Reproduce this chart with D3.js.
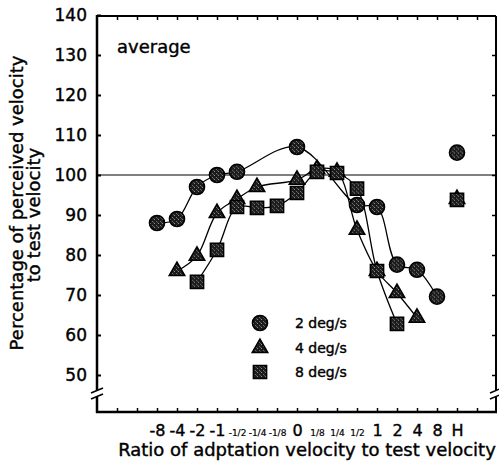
<!DOCTYPE html>
<html>
<head>
<meta charset="utf-8">
<script src="https://cdn.jsdelivr.net/npm/d3@7"></script>
<style>
  body { margin: 0; background: #fff; }
  svg text { font-family: "DejaVu Sans", Arial, sans-serif; fill: #000; stroke: #000; stroke-width: 0.4px; }
</style>
</head>
<body>
<svg width="499" height="472"></svg>
<script>
// Ratio categories along the x axis (two empty tick slots before, one after)
const categories = ["-8", "-4", "-2", "-1", "-1/2", "-1/4", "-1/8", "0",
                    "1/8", "1/4", "1/2", "1", "2", "4", "8", "H"];

// Percentage of perceived velocity, one value per category (null = no point)
const speed2 = [88, 89, 97, 100, 100.8, null, null, 107, null, null, 92.5, 92, 77.6, 76.3, 69.6, 105.6];
const speed4 = [null, 76, 79.8, 90.5, 94, 97, null, 98.8, 101.5, 100.8, 86.3, 76, 70.5, 64.3, null, 94];
const speed8 = [null, null, 73.3, 81.3, 92, 91.8, 92.3, 95.5, 100.8, 100.5, 96.6, 76, 62.8, null, null, 93.8];

const seriesNames = ["2 deg/s", "4 deg/s", "8 deg/s"];
const yTicks = [50, 60, 70, 80, 90, 100, 110, 120, 130, 140];

const svg = d3.select("svg");
const plotLeft = 97, plotRight = 496, plotTop = 16, plotBottom = 412;

const x = d3.scaleLinear().domain([-2, 16]).range([117, 477]);
const y = d3.scaleLinear().domain([50, 140]).range([375, 15]);

// speckled marker fill
const defs = svg.append("defs");
const pat = defs.append("pattern").attr("id", "speckle")
    .attr("width", 4).attr("height", 4).attr("patternUnits", "userSpaceOnUse");
pat.append("rect").attr("width", 4).attr("height", 4).attr("fill", "#1c1c1c");
pat.append("rect").attr("x", 1).attr("y", 0).attr("width", 1).attr("height", 1).attr("fill", "#8a8a8a");
pat.append("rect").attr("x", 3).attr("y", 2).attr("width", 1).attr("height", 1).attr("fill", "#6f6f6f");
pat.append("rect").attr("x", 0).attr("y", 3).attr("width", 1).attr("height", 1).attr("fill", "#555");

// frame
svg.append("line").attr("x1", plotLeft).attr("x2", plotRight).attr("y1", plotTop).attr("y2", plotTop)
    .attr("stroke", "#000").attr("stroke-width", 2);
svg.append("line").attr("x1", plotRight).attr("x2", plotRight).attr("y1", plotTop).attr("y2", plotBottom)
    .attr("stroke", "#000").attr("stroke-width", 2);
svg.append("line").attr("x1", plotLeft).attr("x2", plotLeft).attr("y1", plotTop - 1).attr("y2", plotBottom + 1)
    .attr("stroke", "#000").attr("stroke-width", 2.5);
svg.append("line").attr("x1", plotLeft - 1).attr("x2", plotRight + 1).attr("y1", plotBottom).attr("y2", plotBottom)
    .attr("stroke", "#000").attr("stroke-width", 2.5);

// y axis (left, inward ticks, labels)
const yAxis = svg.append("g").attr("transform", `translate(${plotLeft},0)`)
    .call(d3.axisLeft(y).tickValues(yTicks).tickSize(-4).tickPadding(10).tickFormat(d3.format("d")));
yAxis.select(".domain").remove();
yAxis.selectAll(".tick line").attr("stroke-width", 2);
yAxis.selectAll("text").attr("font-size", 17).attr("font-family", null);

// right axis ticks
const yAxisR = svg.append("g").attr("transform", `translate(${plotRight},0)`)
    .call(d3.axisRight(y).tickValues(yTicks.slice(0, -1)).tickSize(-4).tickFormat(""));
yAxisR.select(".domain").remove();
yAxisR.selectAll(".tick line").attr("stroke-width", 1.5);

// top and bottom ticks
const tickIdx = d3.range(-2, 17);
const xTop = svg.append("g").attr("transform", `translate(0,${plotTop})`)
    .call(d3.axisTop(x).tickValues(tickIdx).tickSize(-4).tickFormat(""));
xTop.select(".domain").remove();
xTop.selectAll(".tick line").attr("stroke-width", 1.5);

const xBot = svg.append("g").attr("transform", `translate(0,${plotBottom})`)
    .call(d3.axisBottom(x).tickValues(tickIdx).tickSize(-4)
        .tickFormat(i => categories[i] === undefined ? "" : categories[i]));
xBot.select(".domain").remove();
xBot.selectAll(".tick line").attr("stroke-width", 1.5);
xBot.selectAll("text")
    .attr("font-family", null)
    .attr("y", 24).attr("dy", 0)
    .attr("font-size", d => (categories[d] || "").includes("/") ? 9 : 16)
    .style("stroke-width", d => (categories[d] || "").includes("/") ? "0.2px" : null);

// axis breaks
function axisBreak(cx, cy) {
  svg.append("rect").attr("x", cx - 3).attr("y", cy - 4).attr("width", 6).attr("height", 7).attr("fill", "#fff");
  svg.append("line").attr("x1", cx - 6).attr("y1", cy - 1).attr("x2", cx + 6).attr("y2", cy - 6)
      .attr("stroke", "#000").attr("stroke-width", 1.6);
  svg.append("line").attr("x1", cx - 6).attr("y1", cy + 5).attr("x2", cx + 6).attr("y2", cy)
      .attr("stroke", "#000").attr("stroke-width", 1.6);
}
axisBreak(plotLeft, 394);
axisBreak(plotRight, 394);

// reference line at 100
svg.append("line").attr("x1", plotLeft).attr("x2", plotRight).attr("y1", y(100)).attr("y2", y(100))
    .attr("stroke", "#000").attr("stroke-width", 1.2);

// series
const series = [speed2, speed4, speed8];
const symbols = [
  d3.symbol().type(d3.symbolCircle).size(180),
  d3.symbol().type(d3.symbolTriangle).size(105),
  d3.symbol().type(d3.symbolSquare).size(175)
];

const line = d3.line()
    .defined(d => d.v !== null)
    .x(d => x(d.i)).y(d => y(d.v))
    .curve(d3.curveCatmullRom.alpha(0.5));

series.forEach(vals => {
  // connect all points except the H condition
  const pts = vals.map((v, i) => ({ i, v })).filter(d => d.v !== null && categories[d.i] !== "H");
  svg.append("path").datum(pts).attr("d", line)
      .attr("fill", "none").attr("stroke", "#000").attr("stroke-width", 1.3);
});

series.forEach((vals, k) => {
  svg.append("g").selectAll("path")
      .data(vals.map((v, i) => ({ i, v })).filter(d => d.v !== null))
      .join("path")
      .attr("d", symbols[k])
      .attr("transform", d => `translate(${x(d.i)},${y(d.v)})`)
      .attr("fill", "url(#speckle)").attr("stroke", "#000").attr("stroke-width", 1.5);
});

// legend
const legY = [323, 348, 372];
seriesNames.forEach((name, k) => {
  svg.append("path").attr("d", symbols[k]).attr("transform", `translate(260,${legY[k]})`)
      .attr("fill", "url(#speckle)").attr("stroke", "#000").attr("stroke-width", 1.5);
  svg.append("text").attr("x", 295).attr("y", legY[k]).attr("dy", "0.36em")
      .attr("font-size", 14).text(name);
});

// panel label
svg.append("text").attr("x", 117).attr("y", 53).attr("font-size", 18).text("average");

// axis titles
svg.append("text").attr("transform", "translate(17,203) rotate(-90)")
    .attr("text-anchor", "middle").attr("dy", "0.35em").attr("font-size", 18)
    .text("Percentage of perceived velocity");
svg.append("text").attr("transform", "translate(34,215) rotate(-90)")
    .attr("text-anchor", "middle").attr("dy", "0.35em").attr("font-size", 18)
    .text("to test velocity");
svg.append("text").attr("x", 307).attr("y", 456).attr("text-anchor", "middle")
    .attr("font-size", 18).text("Ratio of adptation velocity to test velocity");
</script>
</body>
</html>
